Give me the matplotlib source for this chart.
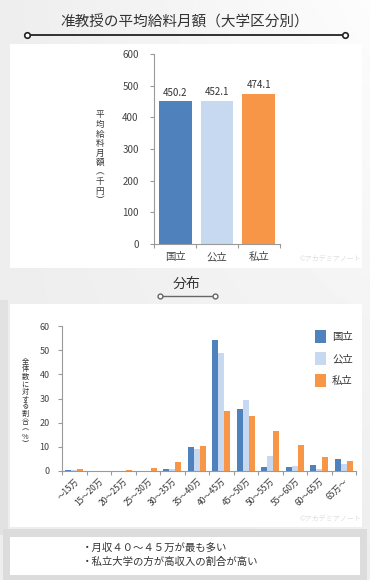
import numpy as np
import matplotlib
matplotlib.use("Agg")
import matplotlib.pyplot as plt
from matplotlib.patches import Rectangle

plt.rcParams['font.family'] = ['Noto Sans CJK JP', 'DejaVu Sans']

# data
types = ["国立", "公立", "私立"]
colors = ["#4f81bd", "#c6d9f0", "#f79646"]
avg_salary = [450.2, 452.1, 474.1]

ranges = ["～15万", "15～20万", "20～25万", "25～30万", "30～35万", "35～40万",
          "40～45万", "45～50万", "50～55万", "55～60万", "60～65万", "65万～"]
share_national = [0.3, 0.0, 0.0, 0.0, 0.7, 9.8, 54.1, 25.7, 1.8, 1.5, 2.3, 4.9]
share_public = [0.3, 0.0, 0.0, 0.0, 0.7, 9.0, 48.9, 29.2, 6.2, 2.0, 1.0, 3.0]
share_private = [0.8, 0.1, 0.6, 1.3, 3.7, 10.5, 24.9, 22.7, 16.7, 10.6, 5.7, 4.0]

W, H = 370, 580
fig = plt.figure(figsize=(W / 100, H / 100), dpi=100)

# background / decoration layer in pixel coords
bg = fig.add_axes([0, 0, 1, 1], zorder=0)
bg.set_xlim(0, W)
bg.set_ylim(H, 0)
bg.axis("off")
grad = np.linspace(0, 1, 256)
gx, gy = np.meshgrid(grad, grad)
bg.imshow(0.93 + 0.06 * (1 - gy) * gx, cmap="gray", vmin=0, vmax=1,
          extent=[0, W, H, 0], aspect="auto")

bg.add_patch(Rectangle((10, 44), 352, 224, facecolor="white", edgecolor="none"))
bg.add_patch(Rectangle((0, 300), 8, 235, facecolor="#e2e2e2", edgecolor="none"))
bg.add_patch(Rectangle((10, 304), 352, 223, facecolor="white", edgecolor="none"))
bg.add_patch(Rectangle((3, 529), 364, 51, facecolor="#dcdcdc", edgecolor="none"))
bg.add_patch(Rectangle((10, 537), 350, 38, facecolor="white", edgecolor="none"))

bg.text(185, 22, "准教授の平均給料月額（大学区分別）", ha="center", va="center",
        fontsize=10.5, color="#333333")
bg.plot([27, 345], [35, 35], color="#222222", lw=1.3)
bg.plot([27, 345], [35, 35], "o", ms=4, mfc="white", mec="#222222", mew=1.2)

bg.text(187, 284, "分布", ha="center", va="center", fontsize=10, color="#333333")
bg.plot([160, 215], [296, 296], color="#666666", lw=1)
bg.plot([160, 215], [296, 296], "o", ms=3.5, mfc="white", mec="#666666", mew=1)

bg.text(330, 259, "©アカデミアノート", ha="center", va="center", fontsize=5, color="#dddddd")
bg.text(330, 519, "©アカデミアノート", ha="center", va="center", fontsize=5, color="#dddddd")

bg.text(82, 548, "・月収４０～４５万が最も多い", ha="left", va="center",
        fontsize=7.5, color="#333333")
bg.text(82, 562, "・私立大学の方が高収入の割合が高い", ha="left", va="center",
        fontsize=7.5, color="#333333")


def vertical_label(text, x, y0, y1, size):
    n = len(text)
    step = (y1 - y0) / (n - 1)
    for k, ch in enumerate(text):
        bg.text(x, y0 + k * step, ch, ha="center", va="center",
                fontsize=size, color="#333333", zorder=3)


axis_color = "#9a9a9a"
tick_color = "#444444"

# average salary chart
ax1 = fig.add_axes([154 / W, 1 - 244 / H, 126 / W, 190 / H], zorder=2)
ax1.patch.set_alpha(0)
x1 = np.arange(len(types))
bars = ax1.bar(x1, avg_salary, width=0.78, color=colors)
for b, v in zip(bars, avg_salary):
    ax1.text(b.get_x() + b.get_width() / 2, v + 12, f"{v:.1f}", ha="center",
             va="bottom", fontsize=7, color="#333333")
ax1.set_xlim(-0.51, 2.51)
ax1.set_ylim(0, 600)
ax1.set_yticks(range(0, 601, 100))
ax1.set_xticks([-0.5, 0.5, 1.5, 2.5])
ax1.set_xticklabels([])
ax1.set_xticks(x1, minor=True)
ax1.set_xticklabels(types, minor=True, fontsize=7.5, color=tick_color)
ax1.tick_params(axis="x", which="minor", length=0, pad=6)
ax1.tick_params(axis="x", which="major", length=3, color=axis_color)
ax1.tick_params(axis="y", labelsize=7, colors=tick_color, length=3, pad=8)
ax1.tick_params(axis="y", color=axis_color)
for s in ["top", "right"]:
    ax1.spines[s].set_visible(False)
for s in ["left", "bottom"]:
    ax1.spines[s].set_color(axis_color)
vertical_label("平均給料月額︵千円︶", 100, 115, 201, 6.2)

# distribution chart
ax2 = fig.add_axes([62 / W, 1 - 471 / H, 294 / W, 145 / H], zorder=2)
ax2.patch.set_alpha(0)
x2 = np.arange(len(ranges))
bw = 0.245
for i, (vals, c, lab) in enumerate(zip([share_national, share_public, share_private],
                                      colors, types)):
    ax2.bar(x2 + (i - 1) * bw, vals, width=bw, color=c, label=lab)
ax2.set_xlim(-0.5, len(ranges) - 0.5)
ax2.set_ylim(0, 60)
ax2.set_yticks(range(0, 61, 10))
ax2.set_xticks(np.arange(-0.5, len(ranges), 1))
ax2.set_xticklabels([])
ax2.set_xticks(x2, minor=True)
ax2.set_xticklabels(ranges, minor=True, rotation=45, ha="right",
                    rotation_mode="anchor", fontsize=6, color="#333333")
ax2.tick_params(axis="x", which="minor", length=0, pad=4)
ax2.tick_params(axis="x", which="major", length=3, color=axis_color)
ax2.tick_params(axis="y", labelsize=6.5, colors=tick_color, length=3, pad=6)
ax2.tick_params(axis="y", color=axis_color)
for s in ["top", "right"]:
    ax2.spines[s].set_visible(False)
for s in ["left", "bottom"]:
    ax2.spines[s].set_color(axis_color)
ax2.legend(loc="upper left", bbox_to_anchor=(0.83, 1.04), frameon=False,
           fontsize=7.5, handlelength=1.0, handleheight=1.6, handletextpad=0.6,
           labelspacing=0.85, labelcolor="#333333")
vertical_label("全体数に対する割合︵%︶", 25, 362, 444, 5.2)

fig.savefig("out.png", dpi=100)
